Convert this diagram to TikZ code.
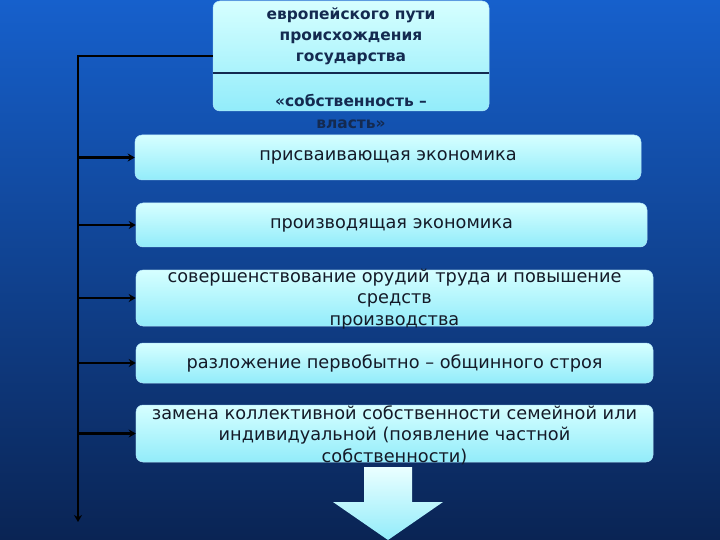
\documentclass[tikz,border=0pt]{standalone}
\usepackage{fontspec}
\setmainfont{DejaVu Sans}
\usetikzlibrary{arrows.meta,positioning,calc}

\definecolor{bgtop}{RGB}{22,96,204}
\definecolor{bgbot}{RGB}{10,36,84}
\definecolor{boxtop}{RGB}{214,255,255}
\definecolor{boxbot}{RGB}{146,236,250}
\definecolor{inktop}{RGB}{20,42,80}
\definecolor{ink}{RGB}{20,26,40}

\begin{document}
\begin{tikzpicture}
[
  x=1bp, y=-1bp,
  every node/.style={inner sep=0pt, text=ink, align=center, font=\fontsize{17.8}{21.5}\selectfont},
  stage/.style={draw=cyan!30!white, line width=0.5pt, rounded corners=7bp, top color=boxtop, bottom color=boxbot},
  link/.style={draw=black, line width=3pt, -{Stealth[length=7bp,width=8bp]}}
]

\useasboundingbox (0,0) rectangle (720,540);
\shade[top color=bgtop, bottom color=bgbot] (0,0) rectangle (720,540);

\node[stage, minimum width=276bp, minimum height=110bp] (0) at (351,56) {};
\node[stage, minimum width=506bp, minimum height=45bp] (1) at (388,157.5) {};
\node[stage, minimum width=511bp, minimum height=44bp] (2) at (391.5,225) {};
\node[stage, minimum width=517bp, minimum height=56bp] (3) at (394.5,298) {};
\node[stage, minimum width=517bp, minimum height=40bp] (4) at (394.5,363) {};
\node[stage, minimum width=517bp, minimum height=57bp] (5) at (394.5,433.5) {};

\draw[inktop, line width=2pt] ([yshift=-17bp]0.west) -- ([yshift=-17bp]0.east);

\node[text=inktop, font=\bfseries\fontsize{15.5}{21}\selectfont] (t0a) at (351,36) {европейского пути\\происхождения\\государства};
\node[text=inktop, font=\bfseries\fontsize{15.5}{23}\selectfont] (t0b) at (351,111.5) {«собственность –\\власть»};
\node (t1) at (1) {присваивающая экономика};
\node (t2) at (2) {производящая экономика};
\node (t3) at (394.5,299) {совершенствование орудий труда и повышение\\средств\\производства};
\node (t4) at (4) {разложение первобытно – общинного строя};
\node (t5) at (394.5,435) {замена коллективной собственности семейной или\\индивидуальной (появление частной\\собственности)};

\coordinate (corner) at (78,56);
\coordinate (foot) at (78,522);
\draw[link] (0.west) -- (corner) -- (foot);
\draw[link] (1.west -| corner) -- (1.west);
\draw[link] (2.west -| corner) -- (2.west);
\draw[link] (3.west -| corner) -- (3.west);
\draw[link] (4.west -| corner) -- (4.west);
\draw[link] (5.west -| corner) -- (5.west);

\shade[top color=boxtop!50!white, bottom color=boxbot] (364,467) -- (412,467) -- (412,502) -- (443,502) -- (388,540) -- (333,502) -- (364,502) -- cycle;
\end{tikzpicture}
\end{document}
